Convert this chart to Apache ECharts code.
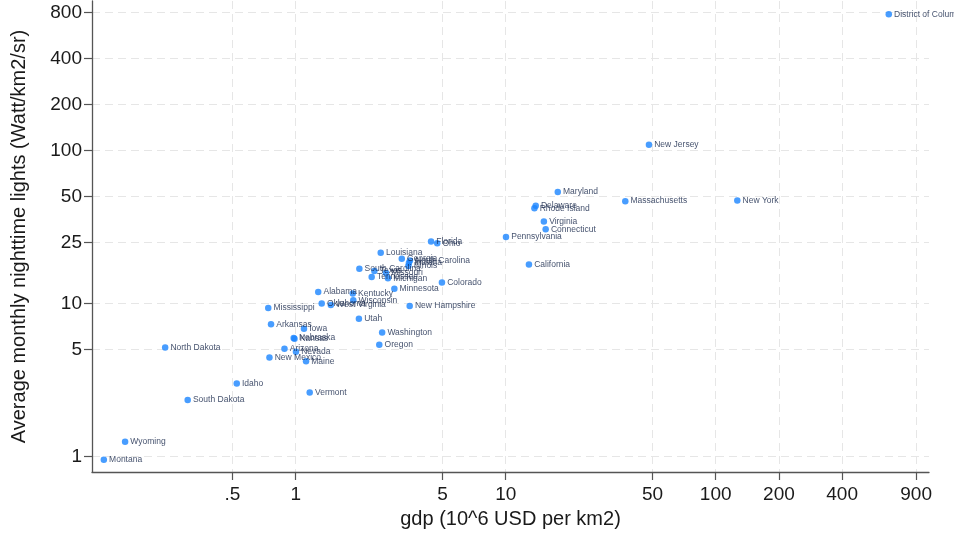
<!DOCTYPE html>
<html>
<head>
<meta charset="utf-8">
<script src="https://cdn.jsdelivr.net/npm/echarts@6/dist/echarts.min.js"></script>
<style>
html,body{margin:0;padding:0;background:#fff;}
#chart{width:954px;height:541px;}
</style>
</head>
<body>
<div id="chart"></div>
<script>
// Data (gdp in 10^6 USD per km2, lights in Watt/km2/sr)
const states = ["District of Columbia","New Jersey","Maryland","Massachusetts","New York","Delaware","Rhode Island","Virginia","Connecticut","Pennsylvania","California",
  "Florida","Ohio","Louisiana","Georgia","North Carolina","Indiana","Illinois","South Carolina","Texas","Missouri","Tennessee","Michigan","Colorado","Minnesota",
  "Alabama","Kentucky","Wisconsin","Oklahoma","West Virginia","New Hampshire","Utah","Washington","Oregon",
  "Mississippi","Arkansas","Iowa","Nebraska","Kansas","Arizona","Nevada","New Mexico","Maine",
  "North Dakota","Idaho","South Dakota","Vermont","Wyoming","Montana"];
const gdp = [667,48.1,17.7,37.1,126.7,13.9,13.7,15.2,15.5,10.03,12.9,
  4.41,4.72,2.54,3.20,3.50,3.46,3.44,2.01,2.37,2.69,2.30,2.75,4.97,2.95,
  1.28,1.87,1.88,1.33,1.47,3.49,2.00,2.58,2.50,
  0.740,0.763,1.095,0.978,0.987,0.884,1.003,0.750,1.12,
  0.239,0.524,0.306,1.166,0.154,0.122];
const lights = [779,109,53.5,46.7,47.1,43.5,42.0,34.4,30.6,27.2,18.0,
  25.4,24.8,21.5,19.6,19.1,18.4,17.6,16.9,16.3,15.8,14.9,14.6,13.7,12.5,
  11.9,11.6,10.5,10.0,9.76,9.62,7.94,6.47,5.37,
  9.33,7.31,6.83,5.95,5.88,5.06,4.84,4.44,4.19,
  5.16,3.00,2.34,2.62,1.247,0.951];
const xTicks = [0.5,1,5,10,50,100,200,400,900];
const xTickLabels = [".5","1","5","10","50","100","200","400","900"];
const yTicks = [1,5,10,25,50,100,200,400,800];
const yTickLabels = ["1","5","10","25","50","100","200","400","800"];

const lg = Math.log10;
const FONT = "Liberation Sans, Arial, Helvetica, sans-serif";
function fmt(ticks, labels){
  return function(v){
    for (let i=0;i<ticks.length;i++){ if (Math.abs(lg(ticks[i])-v)<1e-6) return labels[i]; }
    return "";
  };
}
const points = states.map((s,i)=>({name:s, value:[lg(gdp[i]), lg(lights[i])]}));

const gridLine = {show:true, lineStyle:{color:'#e6e6e6', width:1, type:[8,5]}};
const chart = echarts.init(document.getElementById('chart'), null, {renderer:'canvas'});
chart.setOption({
  animation:false,
  backgroundColor:'#ffffff',
  grid:{left:92, right:25, top:1, bottom:69, containLabel:false},
  xAxis:{
    type:'value', min:-0.970, max:3.0157,
    name:'gdp (10^6 USD per km2)', nameLocation:'middle', nameGap:37,
    nameTextStyle:{fontFamily:FONT, fontSize:20, color:'#1a1a1a'},
    axisLine:{show:true, onZero:false, lineStyle:{color:'#555', width:1.3}},
    axisTick:{show:true, length:8, customValues:xTicks.map(lg), lineStyle:{color:'#555', width:1.2}},
    axisLabel:{customValues:xTicks.map(lg), formatter:fmt(xTicks,xTickLabels), margin:13, fontFamily:FONT, fontSize:19, color:'#1a1a1a'},
    splitLine:gridLine
  },
  yAxis:{
    type:'value', min:-0.102, max:2.978,
    name:'Average monthly nighttime lights (Watt/km2/sr)', nameLocation:'middle', nameGap:63, nameRotate:90,
    nameTextStyle:{fontFamily:FONT, fontSize:20, color:'#1a1a1a'},
    axisLine:{show:true, onZero:false, lineStyle:{color:'#555', width:1.3}},
    axisTick:{show:true, length:8, customValues:yTicks.map(lg), lineStyle:{color:'#555', width:1.2}},
    axisLabel:{customValues:yTicks.map(lg), formatter:fmt(yTicks,yTickLabels), margin:10, fontFamily:FONT, fontSize:19, color:'#1a1a1a'},
    splitLine:gridLine
  },
  series:[{
    type:'scatter',
    data:points,
    symbol:'circle', symbolSize:6.5,
    itemStyle:{color:'#1a85ff'},
    clip:false,
    label:{show:true, position:'right', distance:2, formatter:'{b}', fontFamily:FONT, fontSize:8.5, color:'#0f1f44'},
    labelLayout:{hideOverlap:false}
  }]
});
</script>
</body>
</html>
